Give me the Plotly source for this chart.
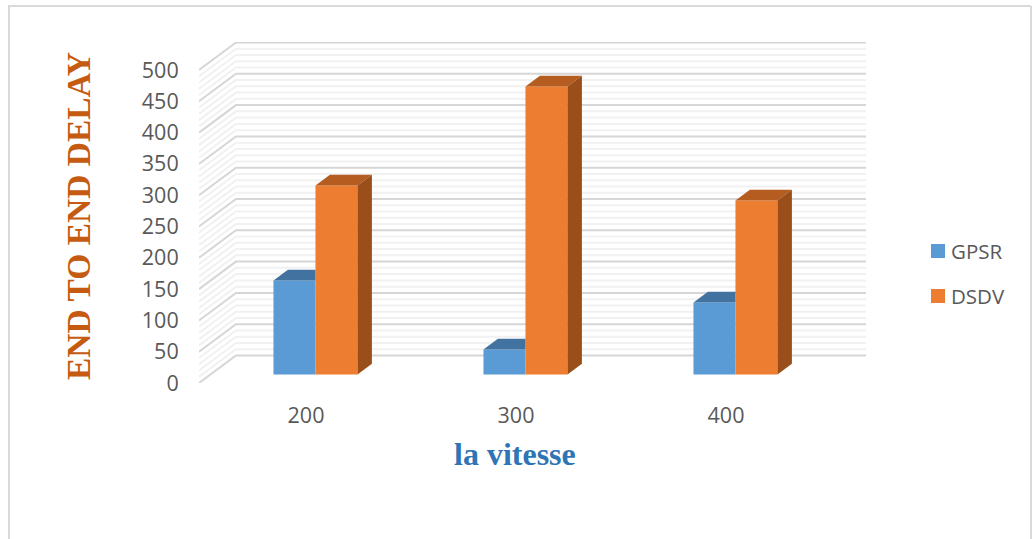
import plotly.graph_objects as go

# Chart data
categories = ["200", "300", "400"]
gpsr_values = [150, 40, 115]
dsdv_values = [302, 460, 278]
value_ticks = [0, 50, 100, 150, 200, 250, 300, 350, 400, 450, 500]
minor_step = 10

# Page geometry of the plot box (pixels)
WIDTH, HEIGHT = 1032, 539
LEFT, RIGHT, TOP, BOTTOM = 199, 866, 42, 383
PX_PER_CATEGORY = 210
PX_PER_VALUE = 0.626

# Oblique projection: one full unit of depth moves a point by these axis amounts
DEPTH_X = 37 / PX_PER_CATEGORY
DEPTH_Y = 27.5 / PX_PER_VALUE
BAR_DEPTH_FRONT = 0.31
BAR_DEPTH_BACK = 0.70
BAR_WIDTH = 0.2
TICK_NUDGE = 2 / PX_PER_CATEGORY

BLUE, ORANGE = "#5b9bd5", "#ed7d31"
BLUE_TOP, ORANGE_TOP, ORANGE_SIDE = "#4273a0", "#b55d20", "#9a4f1b"
MAJOR_GRID, MINOR_GRID = "#d6d6d6", "#f1f1f1"
TEXT_GREY = "#595959"

x_range = [-0.5, 2.5 + DEPTH_X]
y_range = [0, (BOTTOM - TOP) / PX_PER_VALUE]


def wall_lines(levels):
    """Side wall and back wall rulings for the given values."""
    xs, ys = [], []
    for v in levels:
        xs += [x_range[0], x_range[0] + DEPTH_X, x_range[1], None]
        ys += [v, v + DEPTH_Y, v + DEPTH_Y, None]
    return xs, ys


def face(points):
    return [p[0] for p in points] + [None], [p[1] for p in points] + [None]


def polygon_trace(polys, color):
    xs, ys = [], []
    for poly in polys:
        px, py = face(poly)
        xs += px
        ys += py
    return go.Scatter(x=xs, y=ys, mode="lines", fill="toself", fillcolor=color,
                      line=dict(width=0), xaxis="x2", yaxis="y2",
                      showlegend=False, hoverinfo="skip")


fig = go.Figure()

# Gridded walls, on the base axes so the bars stay in front of them
majors = value_ticks
minors = [v for v in range(0, value_ticks[-1], minor_step) if v not in value_ticks]
mx, my = wall_lines(minors)
fig.add_trace(go.Scatter(x=mx, y=my, mode="lines", line=dict(color=MINOR_GRID, width=2),
                         showlegend=False, hoverinfo="skip"))
Mx, My = wall_lines(majors)
fig.add_trace(go.Scatter(x=Mx, y=My, mode="lines", line=dict(color=MAJOR_GRID, width=2),
                         showlegend=False, hoverinfo="skip"))

# Front faces of the bars, shifted into the floor by the front depth
positions = list(range(len(categories)))
dx0, dx1 = BAR_DEPTH_FRONT * DEPTH_X, BAR_DEPTH_BACK * DEPTH_X
dy0, dy1 = BAR_DEPTH_FRONT * DEPTH_Y, BAR_DEPTH_BACK * DEPTH_Y
gpsr_x = [p + dx0 - BAR_WIDTH / 2 for p in positions]
dsdv_x = [p + dx0 + BAR_WIDTH / 2 for p in positions]

fig.add_trace(go.Bar(name="GPSR", x=gpsr_x, y=gpsr_values, base=dy0, width=BAR_WIDTH,
                     marker=dict(color=BLUE, line=dict(width=0)),
                     xaxis="x2", yaxis="y2", showlegend=False))
fig.add_trace(go.Bar(name="DSDV", x=dsdv_x, y=dsdv_values, base=dy0, width=BAR_WIDTH,
                     marker=dict(color=ORANGE, line=dict(width=0)),
                     xaxis="x2", yaxis="y2", showlegend=False))

# Top and side faces; the blue top stops where the taller orange bar hides it
depth_dx, depth_dy = dx1 - dx0, dy1 - dy0
half = BAR_WIDTH / 2
gpsr_tops, dsdv_tops, dsdv_sides = [], [], []
for cx, g in zip(gpsr_x, gpsr_values):
    a, b = cx - half, cx + half
    gy = g + dy0
    gpsr_tops.append([(a, gy), (b, gy), (b, gy + depth_dy), (a + depth_dx, gy + depth_dy)])
for cx, d in zip(dsdv_x, dsdv_values):
    a, b = cx - half, cx + half
    top = d + dy0
    dsdv_tops.append([(a, top), (b, top), (b + depth_dx, top + depth_dy), (a + depth_dx, top + depth_dy)])
    dsdv_sides.append([(b, dy0), (b + depth_dx, dy0 + depth_dy),
                       (b + depth_dx, top + depth_dy), (b, top)])
fig.add_trace(polygon_trace(gpsr_tops, BLUE_TOP))
fig.add_trace(polygon_trace(dsdv_tops, ORANGE_TOP))
fig.add_trace(polygon_trace(dsdv_sides, ORANGE_SIDE))


def paper_x(px):
    return (px - LEFT) / (RIGHT - LEFT)


def paper_y(px):
    return (BOTTOM - px) / (BOTTOM - TOP)


def paper_line(x0, y0, x1, y1):
    return dict(type="line", xref="paper", yref="paper", x0=paper_x(x0), y0=paper_y(y0),
                x1=paper_x(x1), y1=paper_y(y1), line=dict(color="#d9d9d9", width=2))


def swatch(x0, y0, size, color):
    return dict(type="rect", xref="paper", yref="paper", x0=paper_x(x0), y0=paper_y(y0),
                x1=paper_x(x0 + size), y1=paper_y(y0 + size), fillcolor=color, line=dict(width=0))


def label(text, px, py, size, color, family, xanchor="center", angle=0, bold=False):
    return dict(text=f"<b>{text}</b>" if bold else text, xref="paper", yref="paper",
                x=paper_x(px), y=paper_y(py), xanchor=xanchor, yanchor="middle",
                textangle=angle, showarrow=False, font=dict(size=size, color=color, family=family))


shapes = [
    paper_line(9, HEIGHT + 5, 9, 6),
    paper_line(8, 6, 1031, 6),
    paper_line(1031, 6, 1031, HEIGHT + 5),
    swatch(931, 244, 14, BLUE),
    swatch(931, 289, 14, ORANGE),
]

annotations = [
    label("END TO END DELAY", 78, 216, 33.5, "#c55a11", "Liberation Serif", angle=-90, bold=True),
    label("la vitesse", 515, 454, 32, "#2e75b6", "Liberation Serif", bold=True),
    label("GPSR", 949, 251, 20.5, TEXT_GREY, "Open Sans", xanchor="left"),
    label("DSDV", 949, 296, 20.5, TEXT_GREY, "Open Sans", xanchor="left"),
]

axis_font = dict(size=21.5, color=TEXT_GREY, family="Open Sans")

fig.update_layout(
    width=WIDTH, height=HEIGHT,
    margin=dict(l=LEFT, r=WIDTH - RIGHT, t=TOP, b=HEIGHT - BOTTOM, autoexpand=False),
    paper_bgcolor="white", plot_bgcolor="white",
    showlegend=False, hovermode=False, barmode="overlay",
    shapes=shapes, annotations=annotations,
    xaxis=dict(range=x_range, tickmode="array", tickvals=[p + TICK_NUDGE for p in positions],
               ticktext=categories,
               showgrid=False, zeroline=False, showline=False, ticks="outside", ticklen=13,
               tickcolor="rgba(0,0,0,0)", tickfont=axis_font),
    yaxis=dict(range=y_range, tickmode="array", tickvals=value_ticks,
               ticktext=[str(v) for v in value_ticks],
               showgrid=False, zeroline=False, showline=False, ticks="outside", ticklen=15,
               tickcolor="rgba(0,0,0,0)", tickfont=axis_font),
    xaxis2=dict(range=x_range, overlaying="x", visible=False),
    yaxis2=dict(range=y_range, overlaying="y", visible=False),
)

fig.write_html("out.html", config=dict(displayModeBar=False))
